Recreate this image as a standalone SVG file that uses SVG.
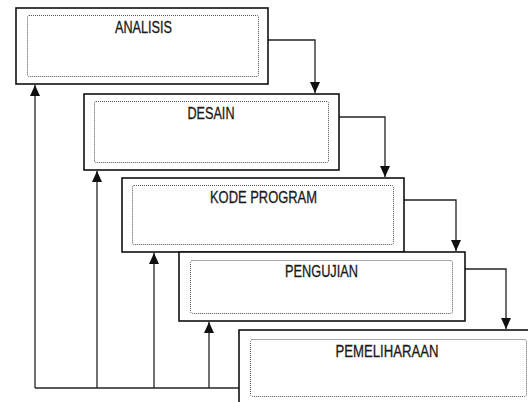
<svg xmlns="http://www.w3.org/2000/svg" width="528" height="402" viewBox="0 0 528 402">
<style>
.outer{fill:#fff;stroke:#111;stroke-width:1.6}
.inner{fill:none;stroke:#555;stroke-width:1;stroke-dasharray:1 1}
.lbl{font-family:"Liberation Sans",Arial,sans-serif;font-size:16px;fill:#1a1a1a;stroke:#1a1a1a;stroke-width:0.3;text-anchor:middle}
.con{fill:none;stroke:#222;stroke-width:1.3}
</style>
<defs>
<marker id="ah" markerUnits="userSpaceOnUse" markerWidth="12" markerHeight="10" refX="11" refY="5" orient="auto" viewBox="0 0 12 10">
<path d="M0,0 L11,5 L0,10 Z" fill="#111"/>
</marker>
</defs>
<rect width="528" height="402" fill="#fff"/>
<g id="connectors">
<path class="con" d="M268,40 H315 V93" marker-end="url(#ah)"/>
<path class="con" d="M339,117 H385 V177" marker-end="url(#ah)"/>
<path class="con" d="M404,200 H456 V251" marker-end="url(#ah)"/>
<path class="con" d="M465,269 H506 V329" marker-end="url(#ah)"/>
<path class="con" d="M239,388 H35"/>
<path class="con" d="M35,388 V85" marker-end="url(#ah)"/>
<path class="con" d="M97,388 V171" marker-end="url(#ah)"/>
<path class="con" d="M154,388 V253" marker-end="url(#ah)"/>
<path class="con" d="M209,388 V322" marker-end="url(#ah)"/>
</g>
<g id="analisis">
<rect class="outer" x="16" y="8" width="252" height="76"/>
<rect class="inner" x="27.5" y="15.5" width="231" height="61" rx="1.5"/>
<text class="lbl" x="143.5" y="33" textLength="57" lengthAdjust="spacingAndGlyphs">ANALISIS</text>
</g>
<g id="desain">
<rect class="outer" x="84" y="94" width="255" height="76"/>
<rect class="inner" x="94.5" y="101.5" width="234" height="61" rx="1.5"/>
<text class="lbl" x="211" y="119" textLength="47" lengthAdjust="spacingAndGlyphs">DESAIN</text>
</g>
<g id="kode-program">
<rect class="outer" x="122" y="178" width="282" height="74"/>
<rect class="inner" x="132.5" y="185.5" width="261" height="59" rx="1.5"/>
<text class="lbl" x="263.5" y="203" textLength="107" lengthAdjust="spacingAndGlyphs">KODE PROGRAM</text>
</g>
<g id="pengujian">
<rect class="outer" x="179" y="252" width="286" height="69"/>
<rect class="inner" x="190.5" y="260.5" width="262" height="53" rx="2"/>
<text class="lbl" x="321.5" y="277" textLength="73" lengthAdjust="spacingAndGlyphs">PENGUJIAN</text>
</g>
<g id="pemeliharaan">
<rect class="outer" x="239" y="330" width="300" height="80"/>
<rect class="inner" x="250.5" y="339.5" width="276" height="57" rx="2"/>
<text class="lbl" x="387" y="357" textLength="103" lengthAdjust="spacingAndGlyphs">PEMELIHARAAN</text>
</g>
</svg>
